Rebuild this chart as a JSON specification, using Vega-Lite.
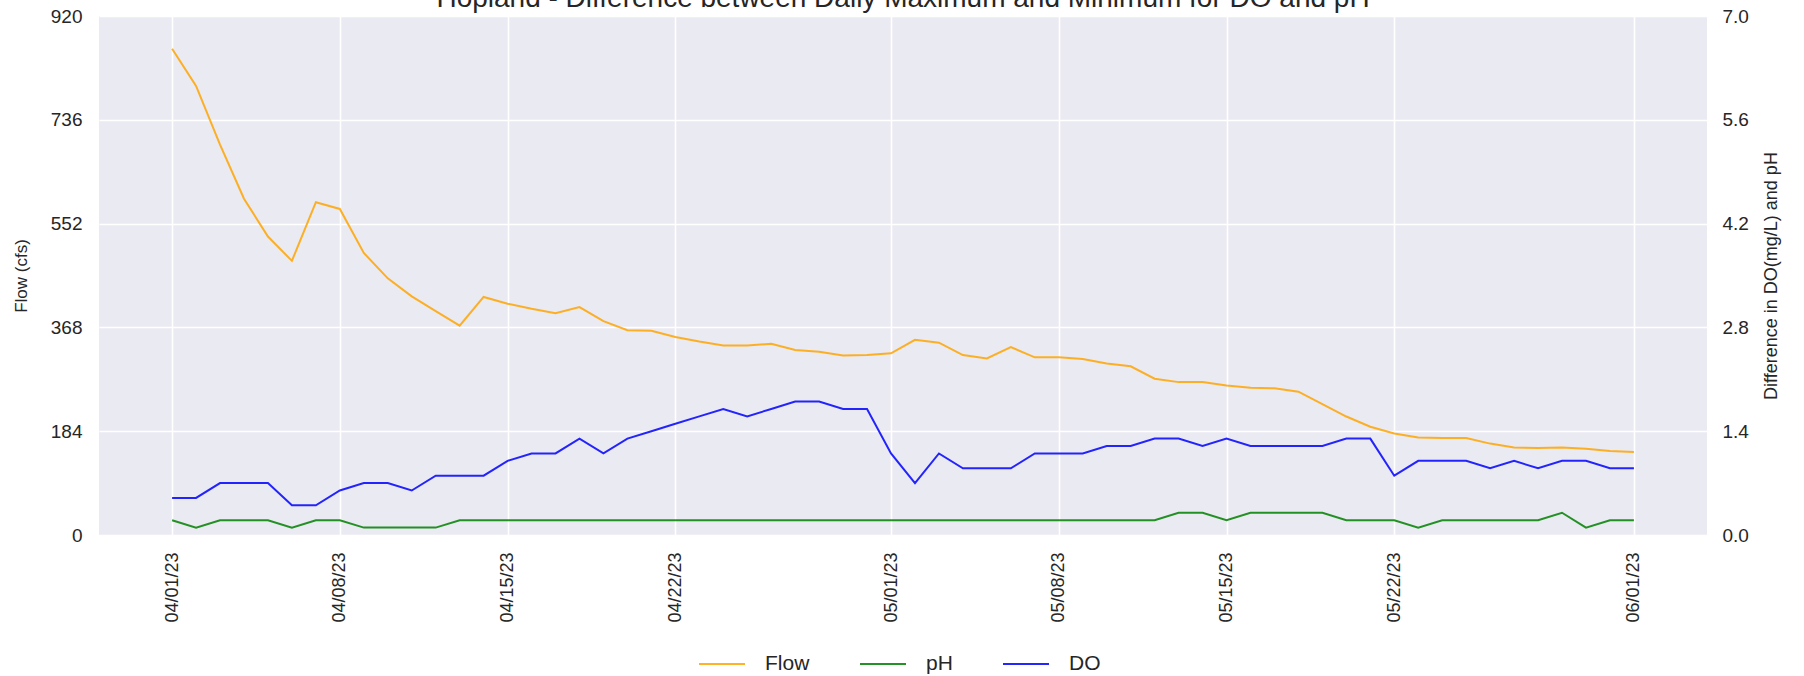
{
  "$schema": "https://vega.github.io/schema/vega-lite/v6.json",
  "width": 1608,
  "height": 519,
  "autosize": {"type": "none"},
  "padding": {"left": 99, "top": 16, "right": 97, "bottom": 141},
  "background": "white",
  "config": {
    "font": "Liberation Sans",
    "view": {"fill": "#EAEAF2", "stroke": null},
    "axis": {
      "domain": false,
      "ticks": false,
      "gridColor": "white",
      "gridWidth": 1.6,
      "labelColor": "#262626",
      "titleColor": "#262626",
      "labelFont": "Liberation Sans",
      "titleFont": "Liberation Sans",
      "titleFontWeight": "normal"
    },
    "legend": {"labelFont": "Liberation Sans", "labelColor": "#262626"}
  },
  "title": {
    "text": "Hopland - Difference between Daily Maximum and Minimum for DO and pH",
    "fontSize": 28,
    "fontWeight": "normal",
    "color": "#262626",
    "font": "Liberation Sans",
    "anchor": "middle",
    "frame": "group",
    "offset": -6
  },
  "data": {
    "values": [
      {"date": "2023-04-01T00:00:00", "Flow": 862, "pH": 0.2, "DO": 0.5},
      {"date": "2023-04-02T00:00:00", "Flow": 796, "pH": 0.1, "DO": 0.5},
      {"date": "2023-04-03T00:00:00", "Flow": 692, "pH": 0.2, "DO": 0.7},
      {"date": "2023-04-04T00:00:00", "Flow": 596, "pH": 0.2, "DO": 0.7},
      {"date": "2023-04-05T00:00:00", "Flow": 529, "pH": 0.2, "DO": 0.7},
      {"date": "2023-04-06T00:00:00", "Flow": 486, "pH": 0.1, "DO": 0.4},
      {"date": "2023-04-07T00:00:00", "Flow": 590, "pH": 0.2, "DO": 0.4},
      {"date": "2023-04-08T00:00:00", "Flow": 578, "pH": 0.2, "DO": 0.6},
      {"date": "2023-04-09T00:00:00", "Flow": 500, "pH": 0.1, "DO": 0.7},
      {"date": "2023-04-10T00:00:00", "Flow": 455, "pH": 0.1, "DO": 0.7},
      {"date": "2023-04-11T00:00:00", "Flow": 423, "pH": 0.1, "DO": 0.6},
      {"date": "2023-04-12T00:00:00", "Flow": 397, "pH": 0.1, "DO": 0.8},
      {"date": "2023-04-13T00:00:00", "Flow": 371, "pH": 0.2, "DO": 0.8},
      {"date": "2023-04-14T00:00:00", "Flow": 422, "pH": 0.2, "DO": 0.8},
      {"date": "2023-04-15T00:00:00", "Flow": 410, "pH": 0.2, "DO": 1.0},
      {"date": "2023-04-16T00:00:00", "Flow": 401, "pH": 0.2, "DO": 1.1},
      {"date": "2023-04-17T00:00:00", "Flow": 393, "pH": 0.2, "DO": 1.1},
      {"date": "2023-04-18T00:00:00", "Flow": 404, "pH": 0.2, "DO": 1.3},
      {"date": "2023-04-19T00:00:00", "Flow": 379, "pH": 0.2, "DO": 1.1},
      {"date": "2023-04-20T00:00:00", "Flow": 363, "pH": 0.2, "DO": 1.3},
      {"date": "2023-04-21T00:00:00", "Flow": 362, "pH": 0.2, "DO": 1.4},
      {"date": "2023-04-22T00:00:00", "Flow": 351, "pH": 0.2, "DO": 1.5},
      {"date": "2023-04-23T00:00:00", "Flow": 343, "pH": 0.2, "DO": 1.6},
      {"date": "2023-04-24T00:00:00", "Flow": 336, "pH": 0.2, "DO": 1.7},
      {"date": "2023-04-25T00:00:00", "Flow": 336, "pH": 0.2, "DO": 1.6},
      {"date": "2023-04-26T00:00:00", "Flow": 339, "pH": 0.2, "DO": 1.7},
      {"date": "2023-04-27T00:00:00", "Flow": 328, "pH": 0.2, "DO": 1.8},
      {"date": "2023-04-28T00:00:00", "Flow": 325, "pH": 0.2, "DO": 1.8},
      {"date": "2023-04-29T00:00:00", "Flow": 318, "pH": 0.2, "DO": 1.7},
      {"date": "2023-04-30T00:00:00", "Flow": 319, "pH": 0.2, "DO": 1.7},
      {"date": "2023-05-01T00:00:00", "Flow": 322, "pH": 0.2, "DO": 1.1},
      {"date": "2023-05-02T00:00:00", "Flow": 346, "pH": 0.2, "DO": 0.7},
      {"date": "2023-05-03T00:00:00", "Flow": 341, "pH": 0.2, "DO": 1.1},
      {"date": "2023-05-04T00:00:00", "Flow": 319, "pH": 0.2, "DO": 0.9},
      {"date": "2023-05-05T00:00:00", "Flow": 313, "pH": 0.2, "DO": 0.9},
      {"date": "2023-05-06T00:00:00", "Flow": 333, "pH": 0.2, "DO": 0.9},
      {"date": "2023-05-07T00:00:00", "Flow": 315, "pH": 0.2, "DO": 1.1},
      {"date": "2023-05-08T00:00:00", "Flow": 315, "pH": 0.2, "DO": 1.1},
      {"date": "2023-05-09T00:00:00", "Flow": 312, "pH": 0.2, "DO": 1.1},
      {"date": "2023-05-10T00:00:00", "Flow": 304, "pH": 0.2, "DO": 1.2},
      {"date": "2023-05-11T00:00:00", "Flow": 299, "pH": 0.2, "DO": 1.2},
      {"date": "2023-05-12T00:00:00", "Flow": 277, "pH": 0.2, "DO": 1.3},
      {"date": "2023-05-13T00:00:00", "Flow": 271, "pH": 0.3, "DO": 1.3},
      {"date": "2023-05-14T00:00:00", "Flow": 271, "pH": 0.3, "DO": 1.2},
      {"date": "2023-05-15T00:00:00", "Flow": 265, "pH": 0.2, "DO": 1.3},
      {"date": "2023-05-16T00:00:00", "Flow": 261, "pH": 0.3, "DO": 1.2},
      {"date": "2023-05-17T00:00:00", "Flow": 260, "pH": 0.3, "DO": 1.2},
      {"date": "2023-05-18T00:00:00", "Flow": 254, "pH": 0.3, "DO": 1.2},
      {"date": "2023-05-19T00:00:00", "Flow": 232, "pH": 0.3, "DO": 1.2},
      {"date": "2023-05-20T00:00:00", "Flow": 210, "pH": 0.2, "DO": 1.3},
      {"date": "2023-05-21T00:00:00", "Flow": 192, "pH": 0.2, "DO": 1.3},
      {"date": "2023-05-22T00:00:00", "Flow": 180, "pH": 0.2, "DO": 0.8},
      {"date": "2023-05-23T00:00:00", "Flow": 173, "pH": 0.1, "DO": 1.0},
      {"date": "2023-05-24T00:00:00", "Flow": 172, "pH": 0.2, "DO": 1.0},
      {"date": "2023-05-25T00:00:00", "Flow": 172, "pH": 0.2, "DO": 1.0},
      {"date": "2023-05-26T00:00:00", "Flow": 162, "pH": 0.2, "DO": 0.9},
      {"date": "2023-05-27T00:00:00", "Flow": 155, "pH": 0.2, "DO": 1.0},
      {"date": "2023-05-28T00:00:00", "Flow": 154, "pH": 0.2, "DO": 0.9},
      {"date": "2023-05-29T00:00:00", "Flow": 155, "pH": 0.3, "DO": 1.0},
      {"date": "2023-05-30T00:00:00", "Flow": 153, "pH": 0.1, "DO": 1.0},
      {"date": "2023-05-31T00:00:00", "Flow": 149, "pH": 0.2, "DO": 0.9},
      {"date": "2023-06-01T00:00:00", "Flow": 147, "pH": 0.2, "DO": 0.9}
    ]
  },
  "transform": [{"fold": ["Flow", "pH", "DO"], "as": ["series", "value"]}],
  "encoding": {
    "x": {
      "field": "date",
      "type": "temporal",
      "scale": {
        "domain": [
          {"year": 2023, "month": 3, "date": 28, "hours": 22, "minutes": 48},
          {"year": 2023, "month": 6, "date": 4, "hours": 1, "minutes": 12}
        ]
      },
      "axis": {
        "title": null,
        "values": [
          {"year": 2023, "month": 4, "date": 1},
          {"year": 2023, "month": 4, "date": 8},
          {"year": 2023, "month": 4, "date": 15},
          {"year": 2023, "month": 4, "date": 22},
          {"year": 2023, "month": 5, "date": 1},
          {"year": 2023, "month": 5, "date": 8},
          {"year": 2023, "month": 5, "date": 15},
          {"year": 2023, "month": 5, "date": 22},
          {"year": 2023, "month": 6, "date": 1}
        ],
        "format": "%m/%d/%y",
        "labelAngle": 270,
        "labelFontSize": 18,
        "labelPadding": 17,
        "labelFlush": false,
        "labelOverlap": false,
        "grid": true
      }
    },
    "color": {
      "field": "series",
      "type": "nominal",
      "scale": {"domain": ["Flow", "pH", "DO"], "range": ["#FFA500", "#008000", "#0000FF"]},
      "legend": {
        "title": null,
        "orient": "none",
        "direction": "horizontal",
        "legendX": 599,
        "legendY": 624,
        "symbolType": "stroke",
        "symbolSize": 2116,
        "symbolStrokeWidth": 2,
        "symbolOpacity": 0.85,
        "labelFontSize": 21,
        "labelOffset": 19,
        "columnPadding": 46
      }
    }
  },
  "layer": [
    {
      "transform": [{"filter": "datum.series === 'Flow'"}],
      "mark": {"type": "line", "strokeWidth": 2, "opacity": 0.85},
      "encoding": {
        "y": {
          "field": "value",
          "type": "quantitative",
          "scale": {"domain": [0, 920], "nice": false, "zero": false},
          "axis": {
            "title": "Flow (cfs)",
            "values": [0, 184, 368, 552, 736, 920],
            "labelFontSize": 19,
            "labelPadding": 17,
            "titleFontSize": 17,
            "titlePadding": 20,
            "grid": true
          }
        }
      }
    },
    {
      "transform": [{"filter": "datum.series !== 'Flow'"}],
      "mark": {"type": "line", "strokeWidth": 2, "opacity": 0.85},
      "encoding": {
        "y": {
          "field": "value",
          "type": "quantitative",
          "scale": {"domain": [0, 7], "nice": false, "zero": false},
          "axis": {
            "orient": "right",
            "title": "Difference in DO(mg/L) and pH",
            "values": [0, 1.4, 2.8, 4.2, 5.6, 7.0],
            "format": ".1f",
            "labelFontSize": 19,
            "labelPadding": 15,
            "titleFontSize": 18,
            "titleAngle": 270,
            "titleBaseline": "top",
            "titlePadding": 14,
            "grid": false
          }
        }
      }
    }
  ],
  "resolve": {"scale": {"y": "independent"}, "axis": {"y": "independent"}}
}
